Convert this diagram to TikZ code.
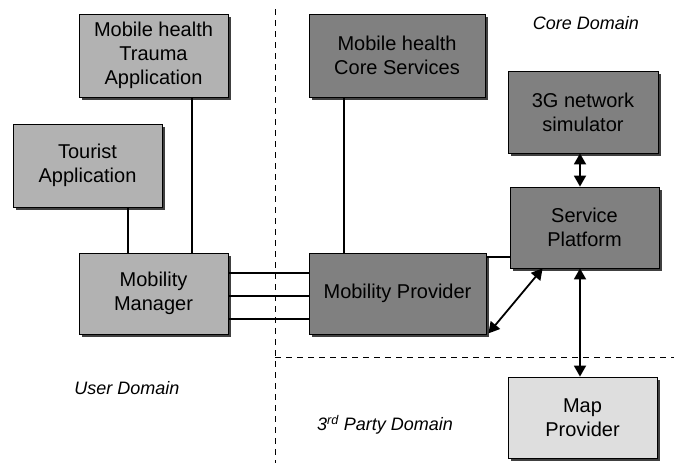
\documentclass[tikz,border=0pt]{standalone}
\usepackage{fontspec}
\setmainfont{Liberation Sans}
\usetikzlibrary{arrows.meta,shadows,calc}
\begin{document}
\begin{tikzpicture}[x=1pt,y=-1pt,
  box/.style={draw=black, line width=0.8pt, align=center, inner sep=0pt,
    font=\fontsize{20}{24}\selectfont,
    general shadow={shadow xshift=2.5pt, shadow yshift=-2.5pt, fill=black!75}},
  light/.style={box, fill=black!30},
  dark/.style={box, fill=black!50},
  pale/.style={box, fill=black!13},
  conn/.style={line width=1.8pt},
  dbl/.style={line width=1.8pt, {Triangle[length=11pt,width=12pt]}-{Triangle[length=11pt,width=12pt]}},
  domdash/.style={line width=0.9pt, dash pattern=on 6pt off 5pt},
  domlabel/.style={font=\fontsize{18}{22}\selectfont\itshape}]
\useasboundingbox (0,0) rectangle (674,463);
% domain borders
\coordinate (dtop) at (275,9);
\coordinate (dbot) at (275,463);
\coordinate (hl) at (275,357);
\coordinate (hr) at (674,357);
\draw[domdash] (dtop) -- (dbot);
\draw[domdash] (hl) -- (hr);
% boxes
\node[light, minimum width=149pt, minimum height=83pt] (trauma) at (153.5,55.5) {Mobile health\\Trauma\\Application};
\node[light, minimum width=149pt, minimum height=83pt] (tourist) at (87.5,165.5) {Tourist\\Application};
\node[light, minimum width=149pt, minimum height=81pt] (mm) at (153.5,293.5) {Mobility\\Manager};
\node[dark, minimum width=176pt, minimum height=83pt] (core) at (397,55.5) {Mobile health\\Core Services};
\node[dark, minimum width=177pt, minimum height=81pt] (mp) at (397.5,293.5) {Mobility Provider};
\node[dark, minimum width=150pt, minimum height=82pt] (g3) at (583,112) {3G network\\simulator};
\node[dark, minimum width=149pt, minimum height=81pt] (sp) at (584.5,227.5) {Service\\Platform};
\node[pale, minimum width=149pt, minimum height=81pt] (map) at (582.5,417.5) {Map\\Provider};
% labels
\node[domlabel] (lcore) at (586,23) {Core Domain};
\node[domlabel] (luser) at (127,388) {User Domain};
\node[domlabel] (lthird) at (385,425) {3\textsuperscript{rd} Party Domain};
% connectors
\coordinate (xa) at (192,0);
\coordinate (xb) at (128,0);
\coordinate (xc) at (344,0);
\coordinate (xv) at (580,0);
\draw[conn] (trauma.south -| xa) -- (mm.north -| xa);
\draw[conn] (tourist.south -| xb) -- (mm.north -| xb);
\draw[conn] (core.south -| xc) -- (mp.north -| xc);
\foreach \yy in {273,296,319}{
  \coordinate (yl) at (0,\yy);
  \draw[conn] (mm.east |- yl) -- (mp.west |- yl);
}
\coordinate (ysp) at (0,257);
\draw[conn] (mp.east |- ysp) -- (sp.west |- ysp);
\draw[dbl] (g3.south -| xv) -- (sp.north -| xv);
\draw[dbl] (sp.south -| xv) -- (map.north -| xv);
\draw[dbl] ($(sp.south west)+(33,0)$) -- ($(mp.south east)+(2,-1)$);
\end{tikzpicture}
\end{document}
